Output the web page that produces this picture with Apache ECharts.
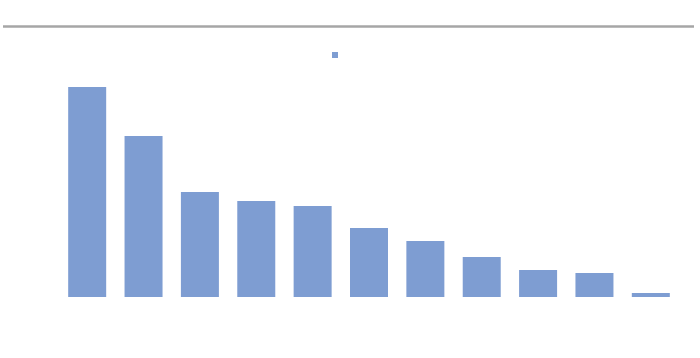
<!DOCTYPE html>
<html>
<head>
<meta charset="utf-8">
<script src="https://cdn.jsdelivr.net/npm/echarts@6/dist/echarts.min.js"></script>
<style>html,body{margin:0;padding:0;background:#fff;}#c{width:700px;height:358px;}</style>
</head>
<body>
<div id="c"></div>
<script>
const categories = ['1','2','3','4','5','6','7','8','9','10','11'];
const seriesName = ' ';
const values = [210, 161, 105, 96, 91, 69, 56, 40, 27, 24, 4];

const chart = echarts.init(document.getElementById('c'), null, {renderer: 'canvas'});
chart.setOption({
  animation: false,
  backgroundColor: '#ffffff',
  graphic: [{
    type: 'line',
    shape: {x1: 3, y1: 26.5, x2: 694, y2: 26.5},
    style: {stroke: '#a6a6a6', lineWidth: 2.5}
  }],
  legend: {
    show: true,
    left: 332,
    top: 52,
    padding: 0,
    icon: 'rect',
    itemWidth: 6,
    itemHeight: 6,
    data: [seriesName],
    textStyle: {fontSize: 1, color: 'rgba(0,0,0,0)'}
  },
  grid: {left: 59, right: 21, top: 47, bottom: 61, containLabel: false},
  xAxis: {
    type: 'category',
    data: categories,
    axisLine: {show: false},
    axisTick: {show: false},
    axisLabel: {show: false},
    splitLine: {show: false}
  },
  yAxis: {
    type: 'value',
    min: 0,
    max: 250,
    axisLine: {show: false},
    axisTick: {show: false},
    axisLabel: {show: false},
    splitLine: {show: false}
  },
  series: [{
    name: seriesName,
    type: 'bar',
    data: values,
    barWidth: 38,
    itemStyle: {color: '#7e9dd2'}
  }]
});
</script>
</body>
</html>
